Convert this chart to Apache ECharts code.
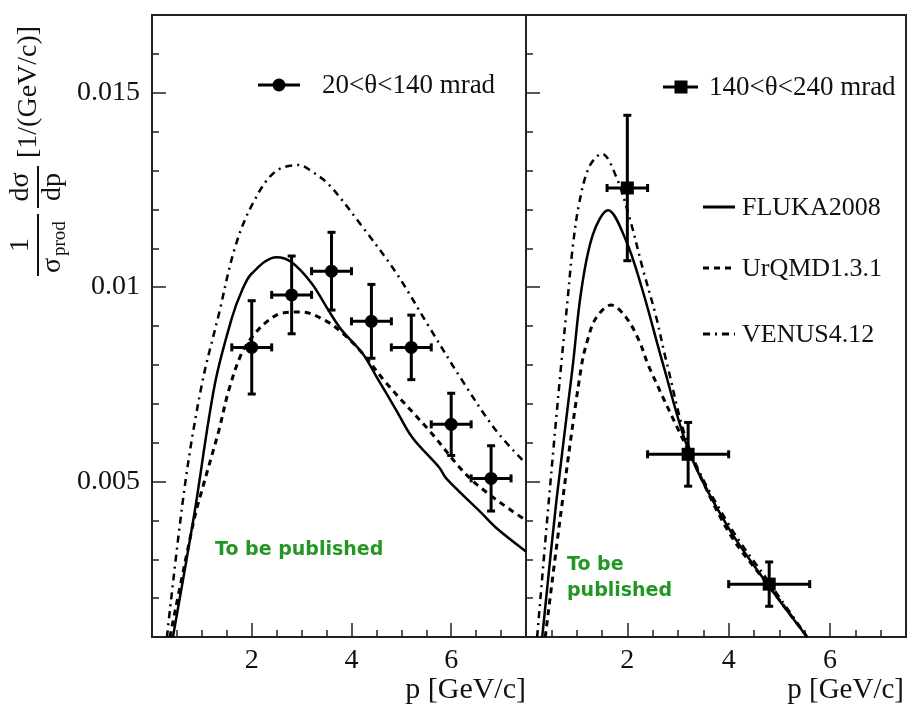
<!DOCTYPE html>
<html><head><meta charset="utf-8">
<script src="https://cdn.jsdelivr.net/npm/echarts@6/dist/echarts.min.js"></script>
<style>html,body{margin:0;padding:0;background:#fff}#c{width:910px;height:706px}</style>
</head><body><div id="c"></div>
<script>
// ---------- data ----------
const xTickLabels = [2, 4, 6];
const yTickLabels = [0.005, 0.01, 0.015];

// left panel: 20<theta<140 mrad
const dataP1 = [2.0, 2.8, 3.6, 4.4, 5.2, 6.0, 6.8];
const dataV1 = [0.00845, 0.0098, 0.01041, 0.00912, 0.00845, 0.00647, 0.00508];
const dataXE1 = [0.4, 0.4, 0.4, 0.4, 0.4, 0.4, 0.4];
const dataYE1 = [0.0012, 0.001, 0.001, 0.00095, 0.00083, 0.0008, 0.00084];

const fluka1 = [[0.42,0.001],[0.84,0.0041],[1.26,0.0075],[1.6,0.0092],[1.8,0.0099],[2.0,0.01035],[2.5,0.01077],[2.8,0.01064],[3.2,0.0101],[3.54,0.0094],[3.8,0.0089],[4.22,0.0083],[4.5,0.0077],[4.9,0.00683],[5.22,0.00613],[5.76,0.00536],[5.9,0.00508],[6.56,0.00425],[6.9,0.00381],[7.5,0.0032]];
const urqmd1 = [[0.36,0.001],[0.84,0.0040],[1.0,0.00477],[1.34,0.00631],[1.54,0.00735],[1.8,0.0083],[2.06,0.0088],[2.34,0.00915],[2.6,0.00933],[3.0,0.00936],[3.46,0.00915],[3.8,0.00884],[4.22,0.0083],[4.7,0.00753],[5.56,0.00631],[6.42,0.00503],[7.5,0.0040]];
const venus1 = [[0.3,0.001],[0.66,0.0049],[1.0,0.0075],[1.34,0.0093],[1.66,0.0110],[2.0,0.0121],[2.46,0.01296],[2.94,0.01314],[3.2,0.01298],[3.56,0.01262],[4.22,0.01155],[4.9,0.01036],[5.56,0.00897],[6.22,0.0076],[6.9,0.00631],[7.5,0.00546]];

// right panel: 140<theta<240 mrad
const dataP2 = [2.0, 3.2, 4.8];
const dataV2 = [0.01255, 0.0057, 0.00236];
const dataXE2 = [0.4, 0.8, 0.8];
const dataYE2 = [0.00187, 0.00082, 0.00057];

const fluka2 = [[0.32,0.001],[0.6,0.0045],[0.92,0.00794],[1.09,0.0099],[1.32,0.01135],[1.62,0.01198],[1.97,0.01121],[2.3,0.00992],[2.7,0.00804],[3.24,0.0057],[4.0,0.0038],[4.8,0.0023],[5.55,0.001]];
const urqmd2 = [[0.38,0.001],[0.72,0.0045],[1.09,0.00794],[1.22,0.00866],[1.38,0.0092],[1.68,0.00954],[1.97,0.00923],[2.23,0.00863],[2.43,0.00794],[3.24,0.0057],[4.0,0.0037],[4.8,0.0023],[5.55,0.001]];
const venus2 = [[0.22,0.001],[0.45,0.0045],[0.69,0.00794],[0.82,0.00966],[0.92,0.0110],[1.05,0.01216],[1.25,0.0131],[1.5,0.01343],[1.78,0.01284],[2.04,0.0118],[2.3,0.0105],[2.57,0.00923],[2.76,0.00815],[3.24,0.0058],[4.0,0.0039],[4.8,0.0024],[5.55,0.001]];

const legendData = ['20<θ<140 mrad', '140<θ<240 mrad'];
const modelNames = ['FLUKA2008', 'UrQMD1.3.1', 'VENUS4.12'];

// ---------- chart ----------
const SERIF = '"Liberation Serif","DejaVu Serif",serif';
const chart = echarts.init(document.getElementById('c'), null, {renderer: 'canvas'});

function pts(P, V, XE, YE){ return P.map((p,i)=>[p, V[i], XE[i], YE[i]]); }

function errRender(shape){
  return function(params, api){
    const x=api.value(0), y=api.value(1), xe=api.value(2), ye=api.value(3);
    const c=api.coord([x,y]), l=api.coord([x-xe,y]), r=api.coord([x+xe,y]);
    const t=api.coord([x,y+ye]), b=api.coord([x,y-ye]);
    const st={stroke:'#000', lineWidth:3};
    const cap=4;
    const ch=[
      {type:'line', shape:{x1:l[0],y1:c[1],x2:r[0],y2:c[1]}, style:st},
      {type:'line', shape:{x1:c[0],y1:t[1],x2:c[0],y2:b[1]}, style:st},
      {type:'line', shape:{x1:l[0],y1:c[1]-cap,x2:l[0],y2:c[1]+cap}, style:st},
      {type:'line', shape:{x1:r[0],y1:c[1]-cap,x2:r[0],y2:c[1]+cap}, style:st},
      {type:'line', shape:{x1:c[0]-cap,y1:t[1],x2:c[0]+cap,y2:t[1]}, style:st},
      {type:'line', shape:{x1:c[0]-cap,y1:b[1],x2:c[0]+cap,y2:b[1]}, style:st}
    ];
    if (shape==='circle') ch.push({type:'circle', shape:{cx:c[0],cy:c[1],r:6.5}, style:{fill:'#000'}});
    else ch.push({type:'rect', shape:{x:c[0]-6.5,y:c[1]-6.5,width:13,height:13}, style:{fill:'#000'}});
    return {type:'group', children:ch};
  };
}

const grids = [
  {left:152, top:15, width:374, height:622},
  {left:526, top:15, width:380, height:622}
];

function xMinor(g){ return {gridIndex:g, type:'value', min:0, max:7.5, interval:0.5, position:'bottom',
  axisLine:{show:false}, splitLine:{show:false}, axisLabel:{show:false},
  axisTick:{show:true, inside:true, length:7, lineStyle:{color:'#222', width:1.5}}}; }
function xMajor(g){ return {gridIndex:g, type:'value', min:0, max:7.5, interval:2, position:'bottom',
  axisLine:{show:false}, splitLine:{show:false},
  axisLabel:{show:true, margin:10, fontFamily:SERIF, fontSize:28, color:'#111',
    formatter:v=> xTickLabels.indexOf(v)>=0 ? String(v) : ''},
  axisTick:{show:true, inside:true, length:14, lineStyle:{color:'#222', width:1.5}}}; }
function yMinor(g){ return {gridIndex:g, type:'value', min:0.001, max:0.017, interval:0.001, position:'left',
  axisLine:{show:false}, splitLine:{show:false}, axisLabel:{show:false},
  axisTick:{show:true, inside:true, length:7, lineStyle:{color:'#222', width:1.5}}}; }
function yMajor(g, labels){ return {gridIndex:g, type:'value', min:0.001, max:0.017, position:'left',
  axisLine:{show:false}, splitLine:{show:false},
  axisLabel:{show:labels, customValues:yTickLabels, margin:12, fontFamily:SERIF, fontSize:28, color:'#111',
    formatter:v=>String(+v.toFixed(3))},
  axisTick:{show:true, inside:true, length:14, customValues:yTickLabels, lineStyle:{color:'#222', width:1.5}}}; }

function curve(name, data, xi, yi, dash, w){
  return {name, type:'line', xAxisIndex:xi, yAxisIndex:yi, data, smooth:0.35, symbol:'none', clip:true,
    lineStyle:{color:'#000', width:w, type:dash}, z:3};
}

const DASH = [6,5];
const DASHDOT = [7,5,2,5];
const GREEN_FONT = 'bold 19px "DejaVu Sans",sans-serif';
const GREEN = '#239623';

const option = {
  backgroundColor:'#fff',
  animation:false,
  grid: grids.map(g=>Object.assign({show:true, borderColor:'#222', borderWidth:2, backgroundColor:'transparent'}, g)),
  xAxis:[xMinor(0), xMajor(0), xMinor(1), xMajor(1)],
  yAxis:[yMinor(0), yMajor(0,true), yMinor(1), yMajor(1,false)],
  series:[
    curve(modelNames[2], venus1, 0, 0, DASHDOT, 2.5),
    curve(modelNames[1], urqmd1, 0, 0, DASH, 3),
    curve(modelNames[0], fluka1, 0, 0, 'solid', 2.5),
    {type:'custom', name:legendData[0], xAxisIndex:0, yAxisIndex:0, renderItem:errRender('circle'),
      data:pts(dataP1,dataV1,dataXE1,dataYE1), encode:{x:0,y:1}, z:5},
    curve(modelNames[2], venus2, 2, 2, DASHDOT, 2.5),
    curve(modelNames[1], urqmd2, 2, 2, DASH, 3),
    curve(modelNames[0], fluka2, 2, 2, 'solid', 2.5),
    {type:'custom', name:legendData[1], xAxisIndex:2, yAxisIndex:2, renderItem:errRender('square'),
      data:pts(dataP2,dataV2,dataXE2,dataYE2), encode:{x:0,y:1}, z:5}
  ],
  graphic:[
    // legends
    {type:'line', shape:{x1:258,y1:85,x2:300,y2:85}, style:{stroke:'#000', lineWidth:3}},
    {type:'circle', shape:{cx:279,cy:85,r:6.5}, style:{fill:'#000'}},
    {type:'text', x:322, y:86, style:{text:legendData[0], font:'27px '+SERIF, fill:'#111', verticalAlign:'middle'}},
    {type:'line', shape:{x1:663,y1:87,x2:698,y2:87}, style:{stroke:'#000', lineWidth:3}},
    {type:'rect', shape:{x:674.5,y:80.5,width:13,height:13}, style:{fill:'#000'}},
    {type:'text', x:709, y:88, style:{text:legendData[1], font:'27px '+SERIF, fill:'#111', verticalAlign:'middle'}},
    {type:'line', shape:{x1:703,y1:207,x2:735,y2:207}, style:{stroke:'#000', lineWidth:3}},
    {type:'text', x:742, y:208, style:{text:modelNames[0], font:'26px '+SERIF, fill:'#111', verticalAlign:'middle'}},
    {type:'line', shape:{x1:703,y1:268,x2:735,y2:268}, style:{stroke:'#000', lineWidth:3, lineDash:DASH}},
    {type:'text', x:742, y:269, style:{text:modelNames[1], font:'26px '+SERIF, fill:'#111', verticalAlign:'middle'}},
    {type:'line', shape:{x1:703,y1:334,x2:735,y2:334}, style:{stroke:'#000', lineWidth:3, lineDash:DASHDOT}},
    {type:'text', x:742, y:335, style:{text:modelNames[2], font:'26px '+SERIF, fill:'#111', verticalAlign:'middle'}},
    // watermark texts
    {type:'text', x:215, y:550, style:{text:'To be published', font:GREEN_FONT, fill:GREEN, verticalAlign:'middle'}},
    {type:'text', x:567, y:565, style:{text:'To be', font:GREEN_FONT, fill:GREEN, verticalAlign:'middle'}},
    {type:'text', x:567, y:591, style:{text:'published', font:GREEN_FONT, fill:GREEN, verticalAlign:'middle'}},
    // axis titles
    {type:'text', x:526, y:690, style:{text:'p [GeV/c]', font:'30px '+SERIF, fill:'#111', align:'right', verticalAlign:'middle'}},
    {type:'text', x:904, y:690, style:{text:'p [GeV/c]', font:'29px '+SERIF, fill:'#111', align:'right', verticalAlign:'middle'}},
    // y axis title (rotated)
    {type:'group', x:38, y:276, rotation:Math.PI/2, children:[
      {type:'text', x:31, y:-3, style:{text:'1', font:'28px '+SERIF, fill:'#111', align:'center', verticalAlign:'bottom'}},
      {type:'line', shape:{x1:0,y1:0,x2:62,y2:0}, style:{stroke:'#111', lineWidth:2}},
      {type:'text', x:3, y:1, style:{text:'σ', font:'28px '+SERIF, fill:'#111', align:'left', verticalAlign:'top'}},
      {type:'text', x:20, y:13, style:{text:'prod', font:'19px '+SERIF, fill:'#111', align:'left', verticalAlign:'top'}},
      {type:'text', x:89, y:-3, style:{text:'dσ', font:'28px '+SERIF, fill:'#111', align:'center', verticalAlign:'bottom'}},
      {type:'line', shape:{x1:68,y1:0,x2:110,y2:0}, style:{stroke:'#111', lineWidth:2}},
      {type:'text', x:89, y:1, style:{text:'dp', font:'28px '+SERIF, fill:'#111', align:'center', verticalAlign:'top'}},
      {type:'text', x:118, y:-9, style:{text:'[1/(GeV/c)]', font:'28px '+SERIF, fill:'#111', align:'left', verticalAlign:'middle'}}
    ]}
  ]
};
chart.setOption(option);
</script>
</body></html>
